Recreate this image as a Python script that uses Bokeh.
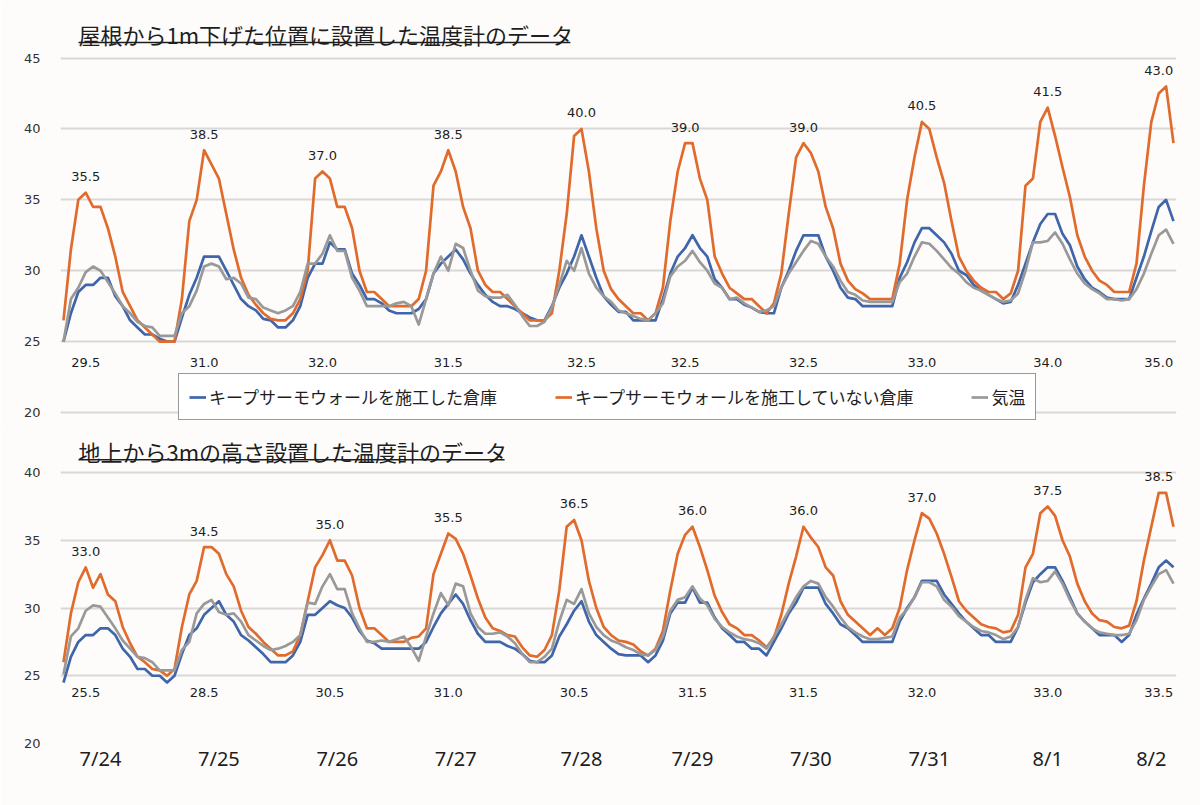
import numpy as np
from bokeh.plotting import figure
from bokeh.models import Range1d, FixedTicker, Legend, LegendItem, Label, LabelSet, ColumnDataSource
from bokeh.layouts import column
from bokeh.embed import file_html
from bokeh.resources import INLINE
from bokeh.core.properties import value

# ---------------- data ----------------
title_top = "屋根から1m下げた位置に設置した温度計のデータ"
title_bottom = "地上から3mの高さ設置した温度計のデータ"
series_names = ["キープサーモウォールを施工した倉庫", "キープサーモウォールを施工していない倉庫", "気温"]
dates = ["7/24", "7/25", "7/26", "7/27", "7/28", "7/29", "7/30", "7/31", "8/1", "8/2"]
date_tick_pos = [5, 21, 37, 53, 70, 85, 101, 117, 133, 147]

top_blue = [25.0, 27.0, 28.5, 29.0, 29.0, 29.5, 29.5, 28.2, 27.5, 26.5, 26.0, 25.5, 25.5, 25.2, 25.0, 25.0,
            26.7, 28.3, 29.5, 31.0, 31.0, 31.0, 30.0, 29.0, 28.0, 27.5, 27.2, 26.6, 26.5, 26.0, 26.0,
            26.5, 27.5, 29.5, 30.5, 30.5, 32.0, 31.5, 31.5, 29.8, 29.0, 28.0, 28.0, 27.7, 27.2, 27.0,
            27.0, 27.0, 27.3, 28.0, 29.8, 30.5, 31.0, 31.5, 30.8, 29.8, 29.0, 28.3, 27.8, 27.5, 27.5,
            27.3, 27.0, 26.7, 26.5, 26.5, 27.5, 28.8, 29.8, 31.0, 32.5, 31.0, 29.5, 28.2, 27.6, 27.1,
            27.1, 26.5, 26.5, 26.5, 26.5, 28.0, 29.8, 31.0, 31.6, 32.5, 31.6, 31.0, 29.4, 28.8, 28.0,
            28.0, 27.6, 27.4, 27.1, 27.0, 27.0, 28.8, 30.0, 31.4, 32.5, 32.5, 32.5, 31.0, 30.0, 28.8,
            28.1, 28.0, 27.5, 27.5, 27.5, 27.5, 27.5, 29.5, 30.6, 32.0, 33.0, 33.0, 32.5, 32.0, 31.2,
            30.0, 29.7, 29.0, 28.6, 28.3, 28.0, 27.7, 27.8, 29.0, 30.5, 32.0, 33.3, 34.0, 34.0, 32.6,
            31.8, 30.3, 29.4, 28.8, 28.5, 28.1, 28.0, 28.0, 28.0, 29.5, 31.0, 32.8, 34.5, 35.0, 33.5]
top_orange = [26.5, 31.5, 35.0, 35.5, 34.5, 34.5, 33.0, 31.0, 28.5, 27.5, 26.5, 26.0, 25.5, 25.0, 25.0, 25.0,
              28.0, 33.5, 35.0, 38.5, 37.5, 36.5, 34.0, 31.5, 29.5, 28.3, 27.6, 27.0, 26.6, 26.5, 26.5,
              27.0, 28.0, 30.0, 36.5, 37.0, 36.5, 34.5, 34.5, 33.0, 30.0, 28.5, 28.5, 28.0, 27.5, 27.5,
              27.5, 27.5, 28.0, 30.0, 36.0, 37.0, 38.5, 37.0, 34.5, 33.0, 30.0, 29.0, 28.5, 28.5, 28.0,
              27.5, 27.0, 26.5, 26.5, 26.5, 27.0, 30.0, 34.0, 39.5, 40.0, 37.0, 33.0, 30.0, 28.7, 28.0,
              27.5, 27.0, 27.0, 26.5, 27.0, 28.8, 33.5, 37.0, 39.0, 39.0, 36.5, 35.0, 31.0, 29.8, 28.8,
              28.4, 28.0, 28.0, 27.5, 27.0, 27.7, 29.8, 34.0, 38.0, 39.0, 38.3, 37.0, 34.5, 33.0, 30.5,
              29.3, 28.7, 28.4, 28.0, 28.0, 28.0, 28.0, 30.5, 35.0, 38.0, 40.5, 40.0, 38.0, 36.2, 33.5,
              31.0, 30.0, 29.3, 28.8, 28.5, 28.5, 28.0, 28.4, 30.0, 36.0, 36.5, 40.5, 41.5, 39.5, 37.3,
              35.2, 32.5, 31.0, 30.0, 29.3, 29.0, 28.5, 28.5, 28.5, 30.5, 36.0, 40.5, 42.5, 43.0, 39.0]
top_gray = [25.0, 28.0, 28.8, 29.9, 30.3, 30.0, 29.2, 28.4, 27.5, 27.0, 26.4, 26.1, 26.0, 25.4, 25.4, 25.4,
            27.0, 27.5, 28.6, 30.3, 30.5, 30.3, 29.4, 29.5, 29.1, 28.1, 28.0, 27.4, 27.2, 27.0, 27.2,
            27.5, 28.5, 30.5, 30.5, 31.2, 32.5, 31.4, 31.4, 29.5, 28.6, 27.5, 27.5, 27.5, 27.5, 27.7,
            27.8, 27.5, 26.2, 28.0, 29.8, 31.0, 30.0, 31.9, 31.6, 30.0, 28.6, 28.2, 28.1, 28.1, 28.3,
            27.6, 26.8, 26.1, 26.1, 26.4, 27.4, 29.0, 30.7, 30.0, 31.6, 29.8, 28.8, 28.2, 27.8, 27.2,
            27.0, 26.8, 26.6, 26.5, 27.0, 27.7, 29.6, 30.3, 30.7, 31.4, 30.6, 30.0, 29.1, 28.8, 28.0,
            28.1, 27.7, 27.4, 27.1, 27.2, 27.5, 28.8, 29.8, 30.6, 31.4, 32.1, 31.9, 31.0, 30.3, 29.3,
            28.5, 28.3, 27.9, 27.8, 27.8, 27.8, 27.8, 29.2, 29.8, 31.0, 32.0, 31.9, 31.4, 30.8, 30.2,
            29.8, 29.2, 28.8, 28.6, 28.3, 28.0, 27.8, 27.9, 28.4, 30.0, 32.0, 32.0, 32.1, 32.7, 31.9,
            30.8, 29.8, 29.1, 28.7, 28.4, 28.0, 28.0, 27.9, 28.0, 28.7, 29.8, 31.2, 32.5, 32.9, 31.9]
top_peak_labels = ["35.5", "38.5", "37.0", "38.5", "40.0", "39.0", "39.0", "40.5", "41.5", "43.0"]
top_blue_labels = ["29.5", "31.0", "32.0", "31.5", "32.5", "32.5", "32.5", "33.0", "34.0", "35.0"]

bot_blue = [24.5, 26.4, 27.5, 28.0, 28.0, 28.5, 28.5, 28.0, 27.0, 26.4, 25.5, 25.5, 25.0, 25.0, 24.5, 25.0,
            26.6, 28.0, 28.5, 29.5, 30.0, 30.5, 29.5, 29.0, 28.0, 27.6, 27.1, 26.6, 26.0, 26.0, 26.0,
            26.5, 27.5, 29.5, 29.5, 30.0, 30.5, 30.2, 30.0, 29.3, 28.3, 27.6, 27.4, 27.0, 27.0, 27.0,
            27.0, 27.0, 27.0, 27.5, 28.6, 29.6, 30.3, 31.0, 30.3, 29.1, 28.1, 27.5, 27.5, 27.5, 27.2,
            27.0, 26.6, 26.1, 26.0, 26.0, 26.5, 27.9, 28.8, 29.8, 30.5, 29.0, 28.0, 27.5, 27.0, 26.6,
            26.5, 26.5, 26.5, 26.0, 26.5, 27.6, 29.6, 30.4, 30.4, 31.5, 30.4, 30.4, 29.3, 28.5, 28.0,
            27.5, 27.5, 27.0, 27.0, 26.5, 27.5, 28.5, 29.6, 30.4, 31.5, 31.5, 31.5, 30.3, 29.6, 28.8,
            28.5, 28.0, 27.5, 27.5, 27.5, 27.5, 27.5, 29.0, 30.0, 30.8, 32.0, 32.0, 32.0, 31.0, 30.3,
            29.6, 29.0, 28.5, 28.0, 28.0, 27.5, 27.5, 27.5, 28.6, 30.4, 31.9, 32.5, 33.0, 33.0, 32.0,
            30.8, 29.6, 29.0, 28.5, 28.0, 28.0, 28.0, 27.5, 28.0, 29.5, 30.7, 31.8, 33.0, 33.5, 33.0]
bot_orange = [26.0, 29.6, 31.9, 33.0, 31.5, 32.5, 31.0, 30.5, 28.6, 27.4, 26.4, 26.0, 25.5, 25.4, 25.0, 25.5,
              28.6, 31.0, 32.0, 34.5, 34.5, 34.0, 32.5, 31.6, 29.8, 28.6, 28.1, 27.5, 27.0, 26.5, 26.5,
              26.8, 28.0, 30.5, 33.0, 33.9, 35.0, 33.5, 33.5, 32.4, 30.0, 28.5, 28.5, 28.0, 27.5, 27.5,
              27.5, 27.8, 27.9, 28.5, 32.5, 34.0, 35.5, 35.1, 34.0, 32.4, 30.7, 29.3, 28.5, 28.3, 28.0,
              27.9, 27.1, 26.5, 26.4, 26.9, 28.0, 31.3, 36.0, 36.5, 35.0, 32.0, 30.0, 28.6, 28.0, 27.6,
              27.5, 27.3, 26.8, 26.5, 27.0, 28.3, 31.3, 34.0, 35.4, 36.0, 34.5, 32.8, 30.9, 29.7, 28.8,
              28.5, 28.0, 28.0, 27.6, 27.1, 27.8, 29.5, 31.8, 33.8, 36.0, 35.2, 34.5, 33.0, 32.4, 30.5,
              29.5, 29.0, 28.5, 28.0, 28.5, 28.0, 28.5, 30.0, 32.8, 35.0, 37.0, 36.6, 35.5, 34.0, 32.3,
              30.5, 29.8, 29.3, 28.8, 28.6, 28.5, 28.2, 28.3, 29.5, 33.0, 34.0, 37.0, 37.5, 36.8, 35.0,
              33.8, 31.8, 30.5, 29.6, 29.1, 29.0, 28.6, 28.5, 28.7, 30.5, 33.5, 36.0, 38.5, 38.5, 36.0]
bot_gray = [25.1, 27.9, 28.5, 29.8, 30.2, 30.1, 29.3, 28.5, 27.6, 27.0, 26.4, 26.3, 26.0, 25.4, 25.4, 25.4,
            26.9, 27.5, 29.6, 30.3, 30.6, 29.7, 29.5, 29.6, 29.0, 28.0, 27.6, 27.2, 26.9, 27.0, 27.2,
            27.5, 28.0, 30.4, 30.3, 31.6, 32.5, 31.4, 31.4, 29.6, 28.5, 27.5, 27.5, 27.6, 27.5, 27.7,
            27.9, 27.1, 26.1, 27.9, 29.6, 31.1, 30.2, 31.8, 31.6, 29.6, 28.6, 28.1, 28.1, 28.2, 27.9,
            27.4, 26.6, 26.0, 26.0, 26.4, 27.0, 29.0, 30.6, 30.3, 31.4, 29.6, 28.6, 28.0, 27.6, 27.4,
            27.1, 26.9, 26.6, 26.5, 26.9, 27.9, 29.8, 30.6, 30.8, 31.6, 30.7, 30.2, 29.2, 28.6, 28.2,
            27.9, 27.7, 27.6, 27.4, 27.0, 27.9, 28.8, 29.8, 30.8, 31.6, 32.0, 31.8, 30.8, 30.1, 29.3,
            28.6, 28.2, 27.9, 27.7, 27.7, 27.8, 27.9, 29.3, 29.9, 30.8, 31.9, 31.9, 31.6, 30.6, 30.1,
            29.4, 29.0, 28.6, 28.3, 28.2, 28.0, 27.7, 27.9, 28.6, 30.6, 32.2, 31.9, 32.0, 32.7, 31.8,
            30.6, 29.6, 29.0, 28.5, 28.2, 28.1, 28.0, 28.0, 28.1, 29.1, 30.6, 31.6, 32.5, 32.8, 31.8]
bot_peak_labels = ["33.0", "34.5", "35.0", "35.5", "36.5", "36.0", "36.0", "37.0", "37.5", "38.5"]
bot_blue_labels = ["25.5", "28.5", "30.5", "31.0", "30.5", "31.5", "31.5", "32.0", "33.0", "33.5"]

# ---------------- styling ----------------
BLUE = "#3f65aa"
ORANGE = "#e16b2c"
GRAY = "#999999"
BG = "#fdfcfa"
GRID = "#d9d8d6"
TXT = "#1e1e1e"
JP = "Noto Sans CJK JP"
NUM = "DejaVu Sans"
LW = 2.7

n = len(top_orange)
idx = list(range(n))
x_range = Range1d(-0.405, n - 1 + 0.405)


def day_peaks(series, ndays=10):
    arr = np.asarray(series)
    w = len(arr) / ndays
    xs, ys = [], []
    for d in range(ndays):
        a = int(np.ceil(d * w))
        b = int(np.ceil((d + 1) * w))
        k = a + int(np.argmax(arr[a:b]))
        xs.append(min(k, len(arr) - 3))  # keep the last label inside the plot area
        ys.append(float(arr[k]))
    return xs, ys


def style_y(p, ticks):
    p.yaxis.ticker = FixedTicker(ticks=ticks)
    p.yaxis.axis_line_color = None
    p.yaxis.major_tick_line_color = None
    p.yaxis.minor_tick_line_color = None
    p.yaxis.major_label_text_font = NUM
    p.yaxis.major_label_text_font_size = "13px"
    p.yaxis.major_label_text_color = "#333333"
    p.yaxis.major_label_standoff = 14
    p.xgrid.visible = False
    p.ygrid.grid_line_color = GRID
    p.ygrid.grid_line_width = 2


def panel(p, blue, orange, gray, peak_labels, blue_labels, low_label_y, title, title_y, ul_y, ul_x1):
    rb = p.line(idx, blue, line_color=BLUE, line_width=LW, line_join="round")
    ro = p.line(idx, orange, line_color=ORANGE, line_width=LW, line_join="round")
    rg = p.line(idx, gray, line_color=GRAY, line_width=LW, line_join="round")
    px, py = day_peaks(orange)
    src_hi = ColumnDataSource(dict(x=px, y=py, t=peak_labels))
    src_lo = ColumnDataSource(dict(x=px, y=[low_label_y] * len(px), t=blue_labels))
    p.add_layout(LabelSet(x="x", y="y", text="t", source=src_hi, text_align="center",
                          text_baseline="middle", text_font=value(NUM), text_font_size=value("13px"),
                          text_color=TXT, y_offset=16))
    p.add_layout(LabelSet(x="x", y="y", text="t", source=src_lo, text_align="center",
                          text_baseline="middle", text_font=value(NUM), text_font_size=value("13px"),
                          text_color=TXT))
    p.add_layout(Label(x=2.03, y=title_y, text=title, text_font=JP, text_font_size="22px",
                       text_color=TXT, text_baseline="middle", text_align="left"))
    p.segment(x0=[2.03], y0=[ul_y], x1=[ul_x1], y1=[ul_y], line_color=TXT, line_width=1.5)
    return rb, ro, rg


common = dict(width=1200, x_range=x_range, output_backend="svg", toolbar_location=None,
              min_border_left=60, min_border_right=24, min_border_top=0,
              background_fill_color=BG, border_fill_color=BG, outline_line_color=None)

top = figure(height=425, y_range=Range1d(19.083, 49.06), x_axis_location=None,
             min_border_bottom=0, **common)
style_y(top, [20, 25, 30, 35, 40, 45])
rb, ro, rg = panel(top, top_blue, top_orange, top_gray, top_peak_labels, top_blue_labels,
                   23.53, title_top, 46.67, 46.1, 68.5)

legend = Legend(items=[LegendItem(label=series_names[0], renderers=[rb]),
                       LegendItem(label=series_names[1], renderers=[ro]),
                       LegendItem(label=series_names[2], renderers=[rg])],
                location=(118, 5), orientation="horizontal", margin=0, padding=10,
                spacing=58, glyph_width=17, glyph_height=20, label_height=20, label_standoff=3,
                label_text_font=JP, label_text_font_size="17px", label_text_color=TXT,
                border_line_color="#333333", border_line_width=1.3,
                background_fill_color="white", background_fill_alpha=1.0)
top.add_layout(legend)

bot = figure(height=380, y_range=Range1d(20, 43.47), min_border_bottom=62, **common)
style_y(bot, [20, 25, 30, 35, 40])
panel(bot, bot_blue, bot_orange, bot_gray, bot_peak_labels, bot_blue_labels,
      23.76, title_bottom, 41.62, 40.95, 59.6)
bot.xaxis.ticker = FixedTicker(ticks=date_tick_pos)
bot.xaxis.major_label_overrides = {t: d for t, d in zip(date_tick_pos, dates)}
bot.xaxis.axis_line_color = None
bot.xaxis.major_tick_line_color = None
bot.xaxis.minor_tick_line_color = None
bot.xaxis.major_label_text_font = "Noto Sans"
bot.xaxis.major_label_text_font_size = "20px"
bot.xaxis.major_label_text_color = TXT
bot.xaxis.major_label_standoff = -5

p = column(top, bot, spacing=0)
open("out.html", "w").write(file_html(p, INLINE))
